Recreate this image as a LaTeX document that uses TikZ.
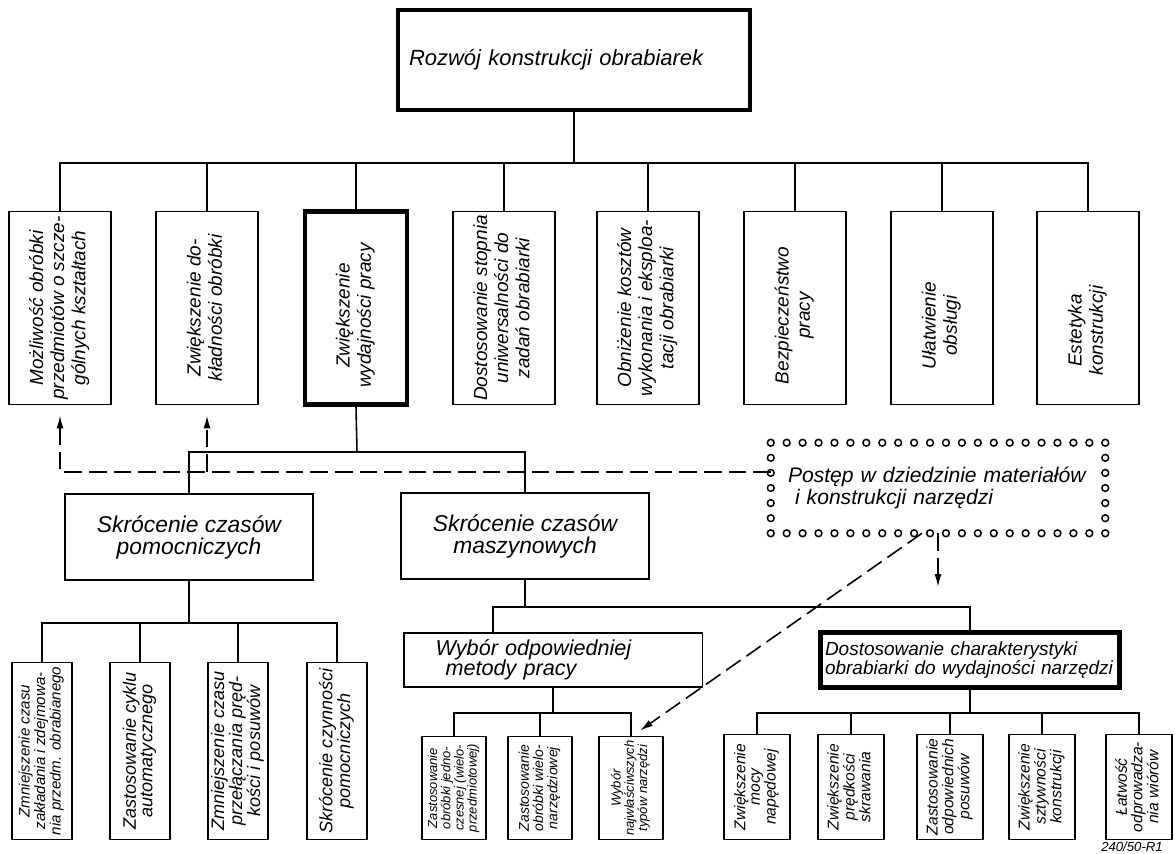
\documentclass[tikz,border=0pt]{standalone}
\usepackage{fontspec}
\setmainfont{Liberation Sans}
\usepackage{graphicx}
\usetikzlibrary{calc, arrows.meta}

% rotated label, optional trailing space pushes the text down
\newcommand{\vlab}[2][0pt]{\rotatebox{90}{\begin{tabular}{@{}c@{}}#2\end{tabular}\hspace*{#1}}}

\tikzset{
  box/.style={draw, line width=1.1pt, inner sep=0pt, fill=white},
  heavy/.style={draw, line width=2.6pt, inner sep=0pt, fill=white},
  title/.style={minimum width=7.04cm, minimum height=2cm, text width=6.6cm, align=left,
    font=\fontsize{12.5}{14}\selectfont\itshape},
  goal/.style={minimum width=2.04cm, minimum height=3.86cm, font=\fontsize{10.8}{12}\selectfont\itshape},
  midbox/.style={minimum width=4.97cm, minimum height=1.72cm, align=center,
    font=\fontsize{13}{12.5}\selectfont\itshape},
  widebox/.style={minimum width=5.98cm, minimum height=1.09cm, align=left},
  pbox/.style={minimum width=1.2cm, minimum height=3.54cm, font=\fontsize{10.3}{9}\selectfont\itshape},
  wbox/.style={minimum width=1.28cm, minimum height=2.06cm, font=\fontsize{7.4}{7}\selectfont\itshape},
  dbox/.style={minimum width=1.32cm, minimum height=2.1cm, font=\fontsize{8.9}{8.3}\selectfont\itshape},
  ring/.style={line width=0.85pt, fill=white},
  dline/.style={dash pattern=on 10pt off 4pt, line width=0.9pt},
  darrow/.style={-{Latex[length=2.6mm,width=1.4mm]}, shorten >=2mm}
}

\begin{document}
\begin{tikzpicture}[x=0.02cm, y=-0.02cm, line width=0.9pt, font=\itshape]
\useasboundingbox[fill=white] (0,0) rectangle (1175,854);

% main box
\node[heavy, title] (top) at (574,60) {Rozwój konstrukcji obrabiarek};

% first level
\node[box, goal] (g1) at (60,308) {\vlab{Możliwość obróbki\\przedmiotów o szcze-\\gólnych kształtach}};
\node[box, goal] (g2) at (207,308) {\vlab{Zwiększenie do-\\kładności obróbki}};
\node[heavy, goal] (g3) at (356,308) {\vlab[0.3cm]{Zwiększenie\\wydajności pracy}};
\node[box, goal] (g4) at (504,308) {\vlab{Dostosowanie stopnia\\uniwersalności do\\zadań obrabiarki}};
\node[box, goal] (g5) at (648,308) {\vlab{Obniżenie kosztów\\wykonania i eksploa-\\tacji obrabiarki}};
\node[box, goal] (g6) at (795,308) {\vlab[0.3cm]{Bezpieczeństwo\\pracy}};
\node[box, goal] (g7) at (942,308) {\vlab[0.7cm]{Ułatwienie\\obsługi}};
\node[box, goal] (g8) at (1088,308) {\vlab[0.9cm]{Estetyka\\konstrukcji}};

\coordinate (bus1) at (574,163);
\draw (top.south) -- (bus1);
\draw (g1.north) |- (bus1) -| (g8.north);
\foreach \i in {2,...,7}
  \draw (g\i.north) -- (g\i.north |- bus1);

% second level
\node[box, midbox] (pom) at (189,537) {Skrócenie czasów\\pomocniczych};
\node[box, midbox] (masz) at (525,536) {Skrócenie czasów\\maszynowych};
\node[minimum width=6.66cm, minimum height=1.78cm, text width=6cm, align=left,
  font=\fontsize{12}{12.5}\selectfont\itshape] (post) at (938,488)
  {Postęp w dziedzinie materiałów\\\hspace*{0.14cm}i konstrukcji narzędzi};

\coordinate (bus2) at (357,452);
\draw (g3.south) -- (bus2);
\draw (pom.north) |- (bus2) -| (masz.north);

% ring border
\foreach \i in {0,...,21} {
  \draw[ring] ($(post.north west)!\i/21!(post.north east)$) circle[radius=0.068cm];
  \draw[ring] ($(post.south west)!\i/21!(post.south east)$) circle[radius=0.068cm];
}
\foreach \i in {1,...,5} {
  \draw[ring] ($(post.north west)!\i/6!(post.south west)$) circle[radius=0.068cm];
  \draw[ring] ($(post.north east)!\i/6!(post.south east)$) circle[radius=0.068cm];
}

% dashed links
\coordinate (dsh) at ([yshift=0.32cm]post.west);
\draw[dline, darrow] (dsh) -| (g1.south);
\draw[dline, darrow] (g2.south |- dsh) -- (g2.south);

% machine time branch
\node[box, widebox, text width=4.7cm, font=\fontsize{12.3}{11.5}\selectfont\itshape] (wyb) at (553,660)
  {Wybór odpowiedniej\\\hspace*{0.2cm}metody pracy};
\node[heavy, widebox, text width=5.8cm, font=\fontsize{10.8}{11}\selectfont\itshape] (dost) at (970,660)
  {Dostosowanie charakterystyki\\obrabiarki do wydajności narzędzi};

\coordinate (bus3) at (525,607);
\draw (masz.south) -- (bus3);
\draw ([xshift=-1.2cm]wyb.north) |- (bus3) -| (dost.north);

\draw[dline, darrow, shorten >=0.4cm] (post.south) -- (post.south |- bus3);

% auxiliary time leaves
\node[box, pbox, font=\fontsize{8.6}{8.6}\selectfont\itshape] (p1) at (42,751)
  {\vlab{Zmniejszenie czasu\\zakładania i zdejmowa-\\nia przedm. obrabianego}};
\node[box, pbox] (p2) at (140,751) {\vlab{Zastosowanie cyklu\\automatycznego}};
\node[box, pbox] (p3) at (238,751) {\vlab{Zmniejszenie czasu\\przełączania pręd-\\kości i posuwów}};
\node[box, pbox] (p4) at (337,751) {\vlab{Skrócenie czynności\\pomocniczych}};

\coordinate (bus4) at (189,623);
\draw (pom.south) -- (bus4);
\draw (p1.north) |- (bus4) -| (p4.north);
\foreach \i in {2,3}
  \draw (p\i.north) -- (p\i.north |- bus4);

% method leaves
\node[box, wbox] (w1) at (454,788) {\vlab{Zastosowanie\\obróbki jedno-\\czesnej (wielo-\\przedmiotowej)}};
\node[box, wbox, font=\fontsize{8}{7.5}\selectfont\itshape] (w2) at (540,788) {\vlab{Zastosowanie\\obróbki wielo-\\narzędziowej}};
\node[box, wbox] (w3) at (631,788) {\vlab{Wybór\\najwłaściwszych\\typów narzędzi}};

\coordinate (bus5) at (553,713);
\draw (wyb.south) -- (bus5);
\draw (w1.north) |- (bus5) -| (w3.north);
\draw (w2.north) -- (w2.north |- bus5);

\draw[dline, darrow, shorten >=0pt] ([xshift=-0.32cm]post.south) -- ([xshift=0.18cm, yshift=0.1cm]w3.north);

% characteristic leaves
\node[box, dbox] (d1) at (757,787) {\vlab{Zwiększenie\\mocy\\napędowej}};
\node[box, dbox] (d2) at (851,787) {\vlab{Zwiększenie\\prędkości\\skrawania}};
\node[box, dbox] (d3) at (950,787) {\vlab{Zastosowanie\\odpowiednich\\posuwów}};
\node[box, dbox] (d4) at (1042,787) {\vlab{Zwiększenie\\sztywności\\konstrukcji}};
\node[box, dbox] (d5) at (1139,787) {\vlab{Łatwość\\odprowadza-\\nia wiórów}};

\coordinate (bus6) at (970,713);
\draw (dost.south) -- (bus6);
\draw (d1.north) |- (bus6) -| (d5.north);
\foreach \i in {2,3,4}
  \draw (d\i.north) -- (d\i.north |- bus6);

\node[font=\fontsize{7.5}{8}\selectfont\itshape, inner sep=0pt] (stamp) at (1132,847) {240/50-R1};
\end{tikzpicture}
\end{document}
